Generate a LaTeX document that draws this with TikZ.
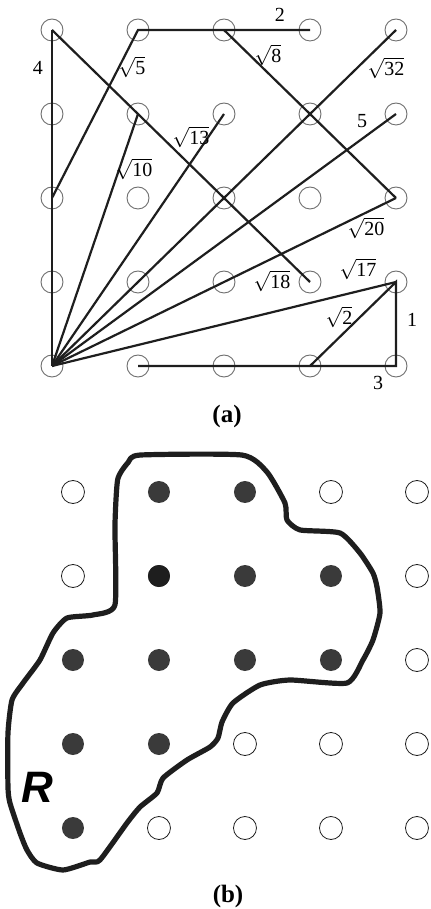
\documentclass[tikz,border=0pt]{standalone}
\usepackage{fontspec}
\setmainfont{Liberation Serif}
\newfontfamily\regionfont{Liberation Sans}
\usepackage{xcolor}
\usepackage{tikz}
\usetikzlibrary{positioning}
\definecolor{dotgray}{RGB}{110,110,110}
\definecolor{inkblack}{RGB}{30,30,30}
\definecolor{fillgray}{RGB}{58,58,58}
\tikzset{
  grid-dot/.style={circle, draw=dotgray, line width=0.45pt, minimum size=11pt, inner sep=0pt},
  seg-line/.style={draw=inkblack, line width=1.1pt, line join=miter},
  len-label/.style={font=\fontsize{10}{12}\selectfont, inner sep=1pt},
  part-label/.style={font=\fontsize{12.5}{14}\selectfont\bfseries},
  in-dot/.style={circle, fill=fillgray, minimum size=11pt, inner sep=0pt},
  out-dot/.style={circle, draw=inkblack, line width=0.4pt, minimum size=11.5pt, inner sep=0pt},
  region-line/.style={draw=inkblack, line width=2.6pt, line join=round}
}
\newcommand{\sqrtlen}[1]{$\sqrt{\mbox{#1}}$}

\begin{document}
\begin{tikzpicture}[x=43pt, y=42pt]
\useasboundingbox (-26pt,-271.5pt) rectangle (189.5pt,183pt);

% Grid (a)
\foreach \i in {0,...,4}
  \foreach \j in {0,...,4}
    \node[grid-dot] (a-\i-\j) at (\i,\j) {};

% Segments from the corner
\draw[seg-line] (a-0-0.center) -- (a-0-4.center);
\draw[seg-line] (a-0-0.center) -- (a-1-3.center);
\draw[seg-line] (a-0-0.center) -- (a-2-3.center);
\draw[seg-line] (a-0-0.center) -- (a-4-4.center);
\draw[seg-line] (a-0-0.center) -- (a-4-3.center);
\draw[seg-line] (a-0-0.center) -- (a-4-2.center);
\draw[seg-line] (a-0-0.center) -- (a-4-1.center);

% Other segments
\draw[seg-line] (a-0-2.center) -- (a-1-4.center) -- (a-3-4.center);
\draw[seg-line] (a-0-4.center) -- (a-3-1.center);
\draw[seg-line] (a-2-4.center) -- (a-4-2.center);
\draw[seg-line] (a-1-0.center) -- (a-4-0.center) -- (a-4-1.center) -- (a-3-0.center);

% Lengths
\node[len-label] (len-4) at (-0.163,3.548) {4};
\node[len-label] (len-r5) at (0.930,3.560) {\sqrtlen{5}};
\node[len-label] (len-2) at (2.651,4.179) {2};
\node[len-label] (len-r8) at (2.512,3.702) {\sqrtlen{8}};
\node[len-label] (len-r32) at (3.884,3.548) {\sqrtlen{32}};
\node[len-label] (len-5) at (3.605,2.917) {5};
\node[len-label] (len-r13) at (1.616,2.726) {\sqrtlen{13}};
\node[len-label] (len-r10) at (0.953,2.345) {\sqrtlen{10}};
\node[len-label] (len-r20) at (3.651,1.643) {\sqrtlen{20}};
\node[len-label] (len-r17) at (3.558,1.155) {\sqrtlen{17}};
\node[len-label] (len-r18) at (2.558,1.012) {\sqrtlen{18}};
\node[len-label] (len-r2) at (3.337,0.583) {\sqrtlen{2}};
\node[len-label] (len-1) at (4.186,0.548) {1};
\node[len-label] (len-3) at (3.791,-0.202) {3};

\node[part-label] (cap-a) at (2.035,-0.607) {(a)};

% Grid (b) with region R
\begin{scope}[shift={(0.244,-5.5)}]
\draw[region-line] plot[smooth cycle, tension=0.35] coordinates {
  (0.780,4.440) (1.965,4.440) (2.256,4.238) (2.465,3.869) (2.488,3.667)
  (2.640,3.548) (3.105,3.512) (3.337,3.274) (3.488,3.036) (3.535,2.869)
  (3.570,2.560) (3.488,2.238) (3.372,2.000) (3.186,1.726) (2.523,1.762)
  (2.174,1.702) (1.860,1.488) (1.733,1.262) (1.686,1.071) (1.593,0.964)
  (1.326,0.810) (1.047,0.595) (0.977,0.417) (0.779,0.250) (0.628,0.060)
  (0.314,-0.381) (0.198,-0.405) (-0.116,-0.500) (-0.419,-0.417) (-0.535,-0.262)
  (-0.616,-0.060) (-0.733,0.298) (-0.756,0.488) (-0.756,1.131) (-0.709,1.524)
  (-0.581,1.726) (-0.384,2.000) (-0.233,2.321) (-0.070,2.500) (0.233,2.536)
  (0.488,2.655) (0.488,3.600) (0.520,4.150) (0.640,4.350)};

\foreach \i/\j in {1/4,2/4,1/3,2/3,3/3,0/2,1/2,2/2,3/2,0/1,1/1,0/0}
  \node[in-dot] (b-\i-\j) at (\i,\j) {};
\foreach \i/\j in {0/4,3/4,4/4,0/3,4/3,4/2,2/1,3/1,4/1,1/0,2/0,3/0,4/0}
  \node[out-dot] (b-\i-\j) at (\i,\j) {};
\node[in-dot, fill=inkblack] at (b-1-3) {};

\node[font=\regionfont\fontsize{22}{24}\selectfont\bfseries\itshape] (r-label) at (-0.419,0.488) {R};
\node[part-label] (cap-b) at (1.803,-0.821) {(b)};
\end{scope}
\end{tikzpicture}
\end{document}
